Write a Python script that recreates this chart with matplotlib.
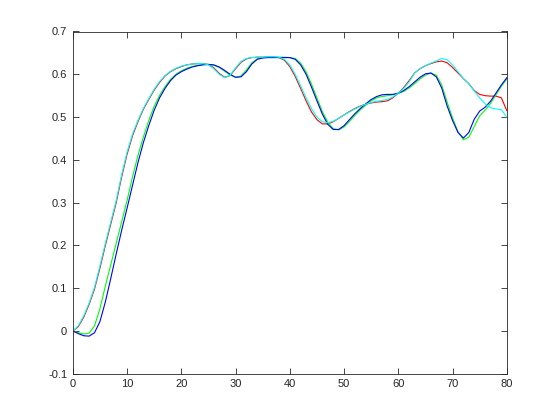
import numpy as np
import matplotlib
matplotlib.use('Agg')
import matplotlib.pyplot as plt
from matplotlib.ticker import FuncFormatter

plt.rcParams['font.family'] = ['Liberation Sans', 'DejaVu Sans']
plt.rcParams['axes.unicode_minus'] = False

# time axis (one sample per unit)
t = np.arange(0, 81)

red = [0.000, 0.010, 0.032, 0.062, 0.098, 0.147, 0.200, 0.250, 0.300, 0.360,
       0.413, 0.456, 0.489, 0.518, 0.541, 0.563, 0.581, 0.596, 0.606, 0.613,
       0.618, 0.622, 0.624, 0.625, 0.625, 0.623, 0.615, 0.602, 0.593, 0.597,
       0.613, 0.628, 0.636, 0.639, 0.640, 0.640, 0.641, 0.641, 0.639, 0.633,
       0.618, 0.595, 0.567, 0.538, 0.512, 0.494, 0.484, 0.484, 0.489, 0.497,
       0.505, 0.513, 0.520, 0.526, 0.530, 0.533, 0.535, 0.536, 0.538, 0.545,
       0.556, 0.569, 0.585, 0.603, 0.613, 0.620, 0.625, 0.629, 0.631, 0.627,
       0.616, 0.603, 0.590, 0.578, 0.562, 0.553, 0.550, 0.549, 0.549, 0.545,
       0.515]

green = [0.000, -0.004, -0.007, -0.005, 0.012, 0.052, 0.105, 0.155, 0.205, 0.255,
         0.305, 0.360, 0.410, 0.453, 0.492, 0.525, 0.551, 0.571, 0.588, 0.600,
         0.608, 0.614, 0.618, 0.621, 0.623, 0.623, 0.621, 0.616, 0.607, 0.598,
         0.593, 0.596, 0.610, 0.627, 0.636, 0.639, 0.640, 0.640, 0.640, 0.640,
         0.639, 0.637, 0.626, 0.606, 0.577, 0.545, 0.513, 0.488, 0.473, 0.470,
         0.477, 0.490, 0.504, 0.517, 0.528, 0.538, 0.545, 0.548, 0.550, 0.552,
         0.555, 0.560, 0.568, 0.578, 0.589, 0.598, 0.603, 0.598, 0.575, 0.535,
         0.498, 0.466, 0.447, 0.453, 0.478, 0.503, 0.516, 0.532, 0.552, 0.572,
         0.589]

blue = [0.000, -0.006, -0.011, -0.012, -0.004, 0.022, 0.068, 0.123, 0.180, 0.235,
        0.287, 0.340, 0.393, 0.440, 0.480, 0.516, 0.545, 0.567, 0.585, 0.598,
        0.606, 0.612, 0.617, 0.620, 0.622, 0.623, 0.622, 0.617, 0.609, 0.600,
        0.593, 0.594, 0.606, 0.624, 0.635, 0.638, 0.639, 0.639, 0.639, 0.639,
        0.639, 0.635, 0.622, 0.600, 0.570, 0.538, 0.507, 0.483, 0.471, 0.471,
        0.480, 0.494, 0.508, 0.520, 0.531, 0.541, 0.548, 0.552, 0.553, 0.553,
        0.556, 0.562, 0.571, 0.582, 0.593, 0.601, 0.603, 0.594, 0.568, 0.526,
        0.492, 0.464, 0.451, 0.464, 0.495, 0.514, 0.523, 0.537, 0.556, 0.575,
        0.592]

cyan = [0.000, 0.012, 0.035, 0.065, 0.102, 0.152, 0.205, 0.255, 0.305, 0.365,
        0.418, 0.460, 0.492, 0.520, 0.543, 0.565, 0.583, 0.597, 0.607, 0.614,
        0.619, 0.622, 0.624, 0.625, 0.625, 0.622, 0.613, 0.600, 0.592, 0.598,
        0.615, 0.630, 0.637, 0.639, 0.640, 0.640, 0.641, 0.641, 0.640, 0.635,
        0.622, 0.600, 0.573, 0.545, 0.520, 0.500, 0.489, 0.487, 0.490, 0.497,
        0.505, 0.512, 0.519, 0.525, 0.530, 0.534, 0.537, 0.539, 0.541, 0.547,
        0.556, 0.567, 0.582, 0.603, 0.613, 0.620, 0.626, 0.631, 0.637, 0.634,
        0.622, 0.606, 0.590, 0.578, 0.561, 0.545, 0.531, 0.522, 0.519, 0.517,
        0.500]

fig = plt.figure(figsize=(5.6, 4.2), dpi=100)
ax = fig.add_axes([0.13, 0.11, 0.775, 0.815])

ax.plot(t, red, color='#ff0000', linewidth=0.8)
ax.plot(t, green, color='#00ff00', linewidth=0.8)
ax.plot(t, blue, color='#0000ff', linewidth=0.8)
ax.plot(t, cyan, color='#00ffff', linewidth=0.8)

ax.set_xlim(0, 80)
ax.set_ylim(-0.1, 0.7)
ax.set_xticks(np.arange(0, 81, 10))
ax.set_yticks(np.arange(-0.1, 0.71, 0.1))
ax.yaxis.set_major_formatter(FuncFormatter(lambda v, p: '%g' % round(v, 2)))

axcol = '#262626'
for s in ax.spines.values():
    s.set_color(axcol)
    s.set_linewidth(0.6)
ax.tick_params(direction='in', length=4, width=0.6, colors=axcol,
               top=True, right=True, labelsize=8, pad=4)

fig.savefig('out.png', dpi=100)
